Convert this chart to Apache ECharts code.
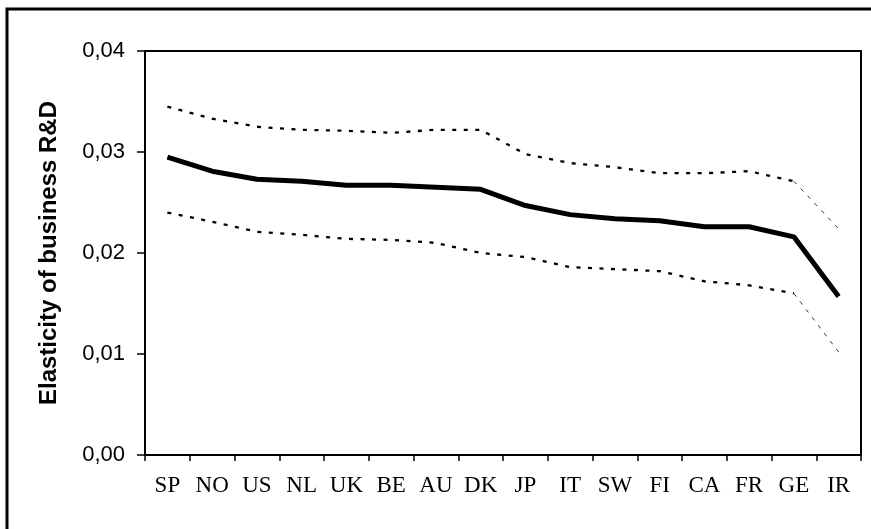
<!DOCTYPE html>
<html>
<head>
<meta charset="utf-8">
<script src="https://cdn.jsdelivr.net/npm/echarts@6/dist/echarts.min.js"></script>
<style>
html,body{margin:0;padding:0;background:#fff;}
#c{width:871px;height:529px;}
</style>
</head>
<body>
<div id="c"></div>
<script>
var categories = ['SP','NO','US','NL','UK','BE','AU','DK','JP','IT','SW','FI','CA','FR','GE','IR'];
var estimate = [0.0295,0.0281,0.0273,0.0271,0.0267,0.0267,0.0265,0.0263,0.0247,0.0238,0.0234,0.0232,0.0226,0.0226,0.0216,0.0157];
var upper = [0.0345,0.0333,0.0325,0.0322,0.0321,0.0319,0.0322,0.0322,0.0298,0.0289,0.0285,0.0279,0.0279,0.0281,0.0271,0.0224];
var lower = [0.0240,0.0231,0.0221,0.0218,0.0214,0.0213,0.0210,0.0200,0.0196,0.0186,0.0184,0.0182,0.0172,0.0168,0.0160,0.0102];
var yTicks = [0, 0.01, 0.02, 0.03, 0.04];

var n = categories.length;
function headPart(arr){ return arr.map(function(v,i){ return i < n-1 ? v : null; }); }
function tailPart(arr){ return arr.map(function(v,i){ return i >= n-2 ? v : null; }); }

var chart = echarts.init(document.getElementById('c'), null, {renderer:'canvas'});
var dotted = {color:'#000', width:2.3, type:[4,7.5]};
var thin = {color:'#333', width:1, type:[4,6]};
chart.setOption({
  animation:false,
  backgroundColor:'#fff',
  grid:{left:145, top:51, right:10, bottom:74, show:true, borderColor:'#000', borderWidth:2, containLabel:false},
  graphic:[{type:'rect', shape:{x:7, y:9, width:900, height:560}, style:{fill:'none', stroke:'#000', lineWidth:3}, silent:true}],
  xAxis:{
    type:'category', data:categories, boundaryGap:true,
    axisLine:{lineStyle:{color:'#000', width:2}},
    axisTick:{show:true, length:6, lineStyle:{color:'#000', width:1.5}},
    axisLabel:{color:'#000', fontFamily:'"Liberation Serif","Times New Roman",serif', fontSize:23, margin:19, interval:0},
    splitLine:{show:false}
  },
  yAxis:{
    type:'value', min:yTicks[0], max:yTicks[yTicks.length-1], interval:0.01,
    name:'Elasticity of business R&D', nameLocation:'middle', nameGap:84, nameRotate:90,
    nameTextStyle:{color:'#000', fontFamily:'"Liberation Sans",Arial,sans-serif', fontSize:24, fontWeight:'bold'},
    axisLine:{show:true, lineStyle:{color:'#000', width:2}},
    axisTick:{show:true, length:8, lineStyle:{color:'#000', width:1.5}},
    axisLabel:{color:'#000', fontFamily:'"Liberation Sans",Arial,sans-serif', fontSize:22, margin:20,
      formatter:function(v){ return v.toFixed(2).replace('.',','); }},
    splitLine:{show:false}
  },
  series:[
    {type:'line', data:headPart(upper), symbol:'none', lineStyle:dotted, connectNulls:false, z:2},
    {type:'line', data:tailPart(upper), symbol:'none', lineStyle:thin, z:2},
    {type:'line', data:headPart(lower), symbol:'none', lineStyle:dotted, z:2},
    {type:'line', data:tailPart(lower), symbol:'none', lineStyle:thin, z:2},
    {type:'line', data:estimate, symbol:'none', lineStyle:{color:'#000', width:5}, z:3}
  ]
});
</script>
</body>
</html>
